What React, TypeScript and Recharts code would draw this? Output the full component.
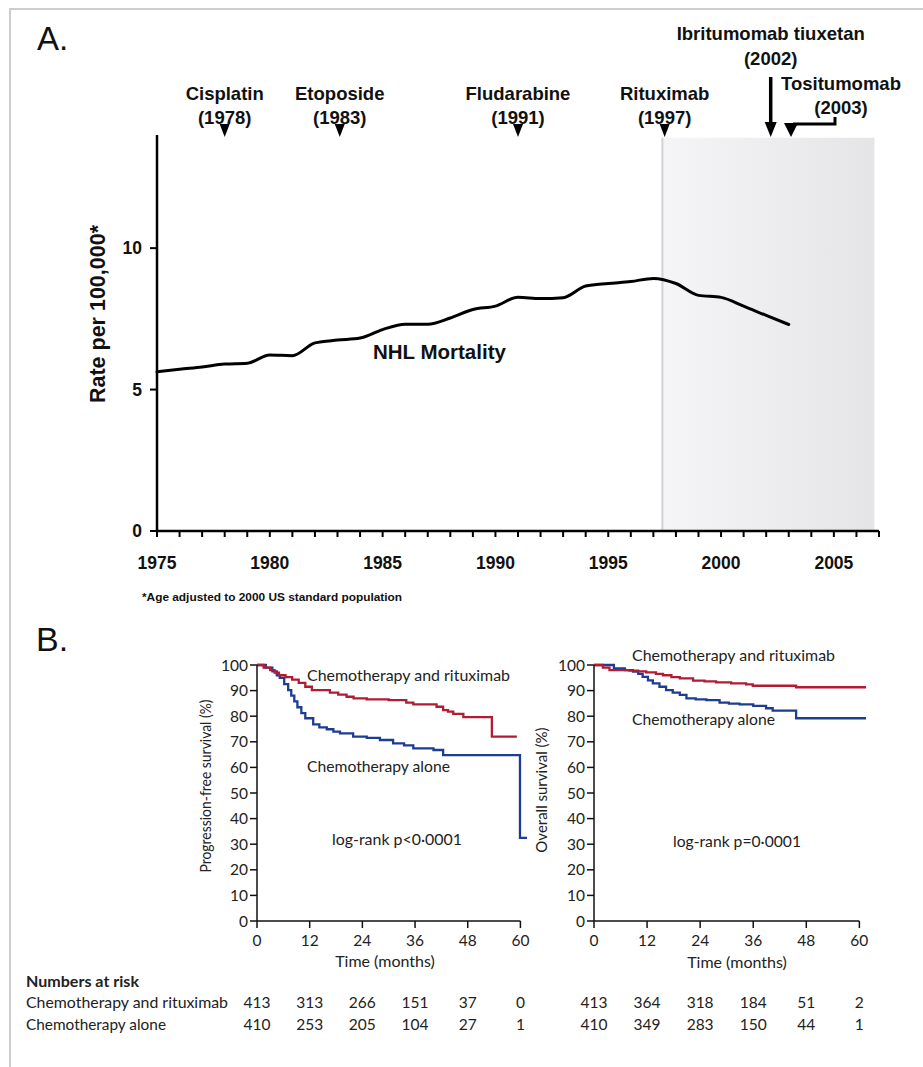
import React from 'react';
import { LineChart, Line, XAxis, YAxis, ReferenceArea, ReferenceLine, ReferenceDot } from 'recharts';

// ---------- Panel A data ----------
const years = [1975, 1976, 1977, 1978, 1979, 1980, 1981, 1982, 1983, 1984, 1985, 1986, 1987, 1988, 1989, 1990, 1991, 1992, 1993, 1994, 1995, 1996, 1997, 1998, 1999, 2000, 2001, 2002, 2003];
const mortalityRate = [5.63, 5.72, 5.8, 5.9, 5.93, 6.22, 6.2, 6.65, 6.75, 6.82, 7.12, 7.31, 7.31, 7.53, 7.83, 7.95, 8.26, 8.22, 8.25, 8.66, 8.75, 8.82, 8.93, 8.75, 8.33, 8.26, 7.95, 7.62, 7.3];
const yearTicks = [1975, 1976, 1977, 1978, 1979, 1980, 1981, 1982, 1983, 1984, 1985, 1986, 1987, 1988, 1989, 1990, 1991, 1992, 1993, 1994, 1995, 1996, 1997, 1998, 1999, 2000, 2001, 2002, 2003, 2004, 2005, 2006, 2007];
const rateTicks = [0, 5, 10];

const drugNames = ['Cisplatin', 'Etoposide', 'Fludarabine', 'Rituximab', 'Ibritumomab tiuxetan', 'Tositumomab'];
const drugYearLabels = ['(1978)', '(1983)', '(1991)', '(1997)', '(2002)', '(2003)'];
const drugArrowX = [1978, 1983.1, 1991, 1997.5, 2002.2, 2003.1];
const drugArrowKind = ['short', 'short', 'short', 'short', 'long', 'bent'];

const shadeStart = 1997.4;
const shadeEnd = 2006.8;
const shadeTop = 13.9;

// ---------- Panel B data ----------
const monthTicks = [0, 12, 24, 36, 48, 60];
const survTicks = [0, 10, 20, 30, 40, 50, 60, 70, 80, 90, 100];

const pfsRituxT = [0, 1.5, 3, 4, 5, 6.5, 8, 9.5, 11, 12.5, 16.6, 18.5, 20.4, 22, 25, 30, 34, 35.6, 40.9, 42.4, 43.5, 44.7, 47, 53.5, 59.2];
const pfsRituxV = [100, 99, 98, 97, 96, 95.3, 94.3, 93, 91.5, 90.2, 89.2, 88.4, 87.6, 87, 86.6, 86.3, 85.3, 84.6, 83.7, 82.4, 81.8, 80.9, 79.6, 72, 72];
const pfsChemoT = [0, 2, 3.5, 4.5, 5.2, 6.2, 7.1, 7.8, 8.5, 9.2, 10.1, 11, 12.8, 14.2, 15.9, 17.4, 18.9, 21.9, 25, 28, 31, 33.5, 35.6, 40.2, 42.4, 59.9, 61.5];
const pfsChemoV = [100, 99, 97.5, 96, 95, 92.5, 90.2, 88, 85.8, 83.5, 81.2, 79.2, 76.8, 75.6, 74.9, 74, 73.3, 72, 71.5, 70.7, 69.4, 68.6, 67.4, 66.8, 64.8, 32.5, 32.5];
const osRituxT = [0, 2, 3.5, 8, 10, 11.8, 14, 15.6, 17.5, 19.4, 22.4, 25, 27.6, 31, 34.4, 35.9, 45.7, 61.5];
const osRituxV = [100, 99, 98, 97.8, 97.5, 97.1, 96.5, 96, 95.3, 94.8, 93.9, 93.6, 93.2, 92.8, 92.4, 91.9, 91.3, 91.3];
const osChemoT = [0, 4.5, 7, 8.8, 10, 11, 12.2, 13.3, 14.8, 16.3, 17.8, 19.4, 20.9, 23, 25.4, 28.4, 30.5, 32.9, 36, 38.9, 40.4, 45.7, 61.5];
const osChemoV = [100, 98.7, 98, 97.4, 96.5, 95.4, 94, 92.8, 91.5, 90.2, 89.2, 88.3, 87, 86.6, 86.3, 85.3, 84.9, 84.6, 84, 83.1, 82.2, 79.2, 79.2];

const riskPfsRitux = [413, 313, 266, 151, 37, 0];
const riskPfsChemo = [410, 253, 205, 104, 27, 1];
const riskOsRitux = [413, 364, 318, 184, 51, 2];
const riskOsChemo = [410, 349, 283, 150, 44, 1];

// ---------- styles ----------
const AFONT = "'Liberation Sans', Arial, Helvetica, sans-serif";
const KFONT = "Lato, 'Open Sans', sans-serif";
const RED = '#b11c33';
const BLUE = '#1d3d92';

const rateData = years.map((y, i) => ({ year: y, rate: mortalityRate[i] }));
const toSeries = (t: number[], v: number[]) => t.map((x, i) => ({ t: x, v: v[i] }));

function DrugMarker(props: any) {
  const { cx, cy, idx } = props;
  const kind = drugArrowKind[idx];
  const name = drugNames[idx];
  const yl = drugYearLabels[idx];
  const tstyle = { fontFamily: AFONT, fontWeight: 700, fontSize: 18.5, fill: '#111' } as any;
  const tri = (x: number, w: number, top: number) => `M${x - w / 2},${cy - top} L${x + w / 2},${cy - top} L${x},${cy + 2} Z`;
  if (kind === 'short') {
    return (
      <g>
        <text x={cx} y={cy - 35.2} textAnchor="middle" {...tstyle}>{name}</text>
        <text x={cx} y={cy - 11.4} textAnchor="middle" {...tstyle}>{yl}</text>
        <path d={tri(cx, 10, 11)} fill="#000" />
      </g>
    );
  }
  if (kind === 'long') {
    return (
      <g>
        <text x={cx} y={cy - 95.5} textAnchor="middle" {...tstyle}>{name}</text>
        <text x={cx} y={cy - 70.5} textAnchor="middle" {...tstyle}>{yl}</text>
        <line x1={cx} y1={cy - 58} x2={cx} y2={cy - 10} stroke="#000" strokeWidth={3.5} />
        <path d={tri(cx, 12, 13)} fill="#000" />
      </g>
    );
  }
  return (
    <g>
      <text x={cx + 50} y={cy - 45.5} textAnchor="middle" {...tstyle}>{name}</text>
      <text x={cx + 50} y={cy - 21.5} textAnchor="middle" {...tstyle}>{yl}</text>
      <path d={`M${cx + 44},${cy - 18} L${cx + 44},${cy - 11} L${cx + 2},${cy - 11}`} fill="none" stroke="#000" strokeWidth={3} />
      <path d={tri(cx, 14, 12)} fill="#000" />
    </g>
  );
}

function PanelA() {
  return (
    <div style={{ position: 'absolute', left: 0, top: 0 }}>
      <LineChart width={923} height={620} data={rateData} margin={{ top: 135, right: 44, left: 97, bottom: 49 }}>
        <defs>
          <linearGradient id="shadeGrad" x1="0" y1="0" x2="1" y2="0">
            <stop offset="0%" stopColor="#f5f5f7" />
            <stop offset="45%" stopColor="#eeeef0" />
            <stop offset="100%" stopColor="#e5e5e8" />
          </linearGradient>
        </defs>
        <ReferenceArea x1={shadeStart} x2={shadeEnd} y1={0} y2={shadeTop} fill="url(#shadeGrad)" fillOpacity={1} stroke="none" ifOverflow="visible" />
        <ReferenceLine segment={[{ x: shadeStart, y: 0 }, { x: shadeStart, y: shadeTop }]} stroke="#d2d2d6" strokeWidth={2} />
        <XAxis dataKey="year" type="number" domain={[1975, 2007]} ticks={yearTicks} interval={0}
          tickFormatter={(v: number) => (v % 5 === 0 ? String(v) : '')}
          height={40} tickSize={6} tickMargin={20}
          axisLine={{ stroke: '#000', strokeWidth: 2.5 }} tickLine={{ stroke: '#000', strokeWidth: 2 }}
          tick={{ fontFamily: AFONT, fontWeight: 700, fontSize: 17.5, fill: '#111' }} />
        <YAxis type="number" domain={[0, 14]} ticks={rateTicks} interval={0} width={60} tickSize={7} tickMargin={8}
          axisLine={{ stroke: '#000', strokeWidth: 2.5 }} tickLine={{ stroke: '#000', strokeWidth: 2 }}
          tick={{ fontFamily: AFONT, fontWeight: 700, fontSize: 17.5, fill: '#111' }} />
        <Line dataKey="rate" type="monotone" stroke="#000" strokeWidth={3} dot={false} isAnimationActive={false} strokeLinejoin="round" strokeLinecap="round" />
        {drugArrowX.map((x, i) => (
          <ReferenceDot key={i} x={x} y={14} r={0} ifOverflow="visible" shape={(p: any) => <DrugMarker {...p} idx={i} />} />
        ))}
      </LineChart>
    </div>
  );
}

function KMTick(props: any) {
  const { x, y, payload, riskR, riskC } = props;
  const idx = monthTicks.indexOf(payload.value);
  const st = { fontSize: 15.5, fill: '#222', fontFamily: KFONT, textAnchor: 'middle' } as any;
  return (
    <g>
      <text x={x} y={y} dy="0.71em" {...st}>{payload.value}</text>
      <text x={x} y={y + 61.5} dy="0.71em" {...st}>{riskR[idx]}</text>
      <text x={x} y={y + 84} dy="0.71em" {...st}>{riskC[idx]}</text>
    </g>
  );
}

function KMChart(props: any) {
  const { left, right, ritux, chemo, riskR, riskC } = props;
  const tickStyle = { fontSize: 15.5, fill: '#222', fontFamily: KFONT };
  return (
    <div style={{ position: 'absolute', left, top: 640 }}>
      <LineChart width={400} height={420} margin={{ top: 25, right, left: 57, bottom: 84 }}>
        <XAxis xAxisId="main" type="number" dataKey="t" domain={[0, 61.5]} ticks={monthTicks} interval={0}
          axisLine={false} tickSize={7} tickMargin={7} height={55}
          tickLine={{ stroke: '#111', strokeWidth: 1.5 }}
          tick={(p: any) => <KMTick {...p} riskR={riskR} riskC={riskC} />} />
        <YAxis type="number" domain={[0, 100]} ticks={survTicks} interval={0} width={50} tickSize={7} tickMargin={2}
          axisLine={{ stroke: '#111', strokeWidth: 1.5 }} tickLine={{ stroke: '#111', strokeWidth: 1.5 }} tick={tickStyle} />
        <ReferenceLine xAxisId="main" segment={[{ x: 0, y: 0 }, { x: 60, y: 0 }]} stroke="#111" strokeWidth={1.5} />
        <Line xAxisId="main" data={chemo} dataKey="v" type="stepAfter" stroke={BLUE} strokeWidth={2.3} dot={false} isAnimationActive={false} />
        <Line xAxisId="main" data={ritux} dataKey="v" type="stepAfter" stroke={RED} strokeWidth={2.3} dot={false} isAnimationActive={false} />
      </LineChart>
    </div>
  );
}

function Overlay() {
  const k = { fontFamily: KFONT, fontSize: 16, fill: '#222' } as any;
  const a = { fontFamily: AFONT, fill: '#111' } as any;
  return (
    <svg width={923} height={1067} style={{ position: 'absolute', left: 0, top: 0, pointerEvents: 'none' }}>
      <text x={37} y={50} {...a} fontSize={33}>A.</text>
      <text x={36} y={651} {...a} fontSize={34}>B.</text>
      <text x={373} y={358.5} {...a} fontSize={20.5} fontWeight={700}>NHL Mortality</text>
      <text x={142} y={601} {...a} fontSize={11} fontWeight={700} textLength={260} lengthAdjust="spacingAndGlyphs">*Age adjusted to 2000 US standard population</text>
      <text x={105} y={314} {...a} fontSize={21.5} fontWeight={700} textAnchor="middle" transform="rotate(-90 105 314)">Rate per 100,000*</text>

      <text x={307} y={680.5} {...k} textLength={203} lengthAdjust="spacingAndGlyphs">Chemotherapy and rituximab</text>
      <text x={307} y={772} {...k} textLength={143} lengthAdjust="spacingAndGlyphs">Chemotherapy alone</text>
      <text x={332} y={845} {...k} textLength={130} lengthAdjust="spacingAndGlyphs">log-rank p&lt;0·0001</text>
      <text x={385} y={967} {...k} textAnchor="middle">Time (months)</text>
      <text x={211} y={786} {...k} fontSize={15} textAnchor="middle" textLength={173} lengthAdjust="spacingAndGlyphs" transform="rotate(-90 211 786)">Progression-free survival (%)</text>

      <text x={632} y={660.5} {...k} textLength={203} lengthAdjust="spacingAndGlyphs">Chemotherapy and rituximab</text>
      <text x={632} y={725} {...k} textLength={143} lengthAdjust="spacingAndGlyphs">Chemotherapy alone</text>
      <text x={673} y={846.5} {...k} textLength={128} lengthAdjust="spacingAndGlyphs">log-rank p=0·0001</text>
      <text x={737} y={968} {...k} textAnchor="middle">Time (months)</text>
      <text x={547} y={790} {...k} fontSize={15} textAnchor="middle" transform="rotate(-90 547 790)">Overall survival (%)</text>

      <text x={26} y={986.5} {...k} fontWeight={700} textLength={113} lengthAdjust="spacingAndGlyphs">Numbers at risk</text>
      <text x={26} y={1007.5} {...k} textLength={202} lengthAdjust="spacingAndGlyphs">Chemotherapy and rituximab</text>
      <text x={26} y={1029.5} {...k} textLength={140} lengthAdjust="spacingAndGlyphs">Chemotherapy alone</text>
    </svg>
  );
}

export default function App() {
  return (
    <div style={{ position: 'absolute', left: 0, top: 0, width: 923, height: 1067, background: '#fff', overflow: 'hidden' }}>
      <div style={{ position: 'absolute', left: 9, top: 8, width: 914, height: 2, background: '#cdcdcd' }} />
      <div style={{ position: 'absolute', left: 9, top: 8, width: 2, height: 1059, background: '#cdcdcd' }} />
      <PanelA />
      <KMChart left={150} right={23} ritux={toSeries(pfsRituxT, pfsRituxV)} chemo={toSeries(pfsChemoT, pfsChemoV)} riskR={riskPfsRitux} riskC={riskPfsChemo} />
      <KMChart left={487} right={21} ritux={toSeries(osRituxT, osRituxV)} chemo={toSeries(osChemoT, osChemoV)} riskR={riskOsRitux} riskC={riskOsChemo} />
      <Overlay />
    </div>
  );
}
